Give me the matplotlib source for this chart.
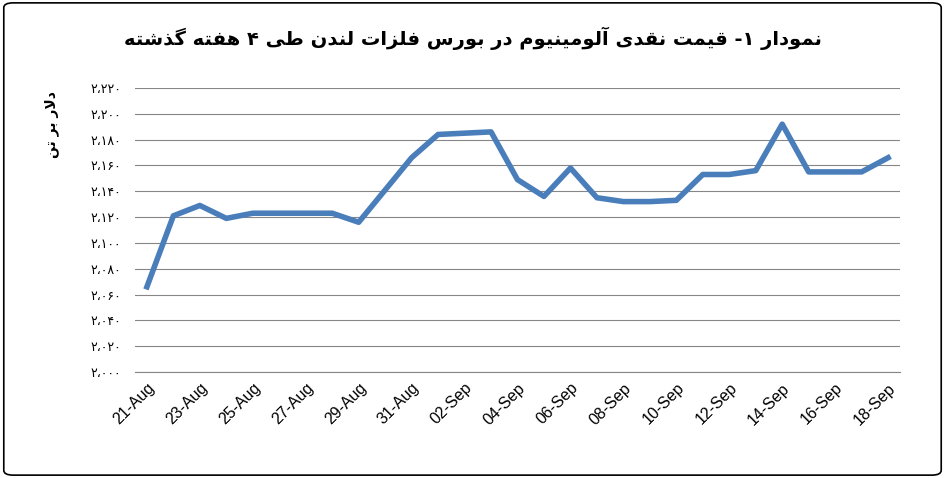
import numpy as np
import matplotlib.pyplot as plt
from matplotlib.patches import FancyBboxPatch

dates = ['21-Aug', '22-Aug', '23-Aug', '24-Aug', '25-Aug', '26-Aug', '27-Aug', '28-Aug',
         '29-Aug', '30-Aug', '31-Aug', '01-Sep', '02-Sep', '03-Sep', '04-Sep', '05-Sep',
         '06-Sep', '07-Sep', '08-Sep', '09-Sep', '10-Sep', '11-Sep', '12-Sep', '13-Sep',
         '14-Sep', '15-Sep', '16-Sep', '17-Sep', '18-Sep']
prices = [2066, 2121, 2129, 2119, 2123, 2123, 2123, 2123, 2116, 2141, 2166, 2184, 2185,
          2186, 2149, 2136, 2158, 2135, 2132, 2132, 2133, 2153, 2153, 2156, 2192, 2155,
          2155, 2155, 2166]
title_fa = 'نمودار ۱- قیمت نقدی آلومینیوم در بورس فلزات لندن طی ۴ هفته گذشته'
ylabel_fa = 'دلار بر تن'

# simple arabic shaping: (isolated, final, initial, medial); 2 forms = no left join
FORMS = {
    'ا': (0xFE8D, 0xFE8E), 'آ': (0xFE81, 0xFE82), 'د': (0xFEA9, 0xFEAA), 'ذ': (0xFEAB, 0xFEAC),
    'ر': (0xFEAD, 0xFEAE), 'ز': (0xFEAF, 0xFEB0), 'و': (0xFEED, 0xFEEE),
    'ب': (0xFE8F, 0xFE90, 0xFE91, 0xFE92), 'ت': (0xFE95, 0xFE96, 0xFE97, 0xFE98),
    'س': (0xFEB1, 0xFEB2, 0xFEB3, 0xFEB4), 'ش': (0xFEB5, 0xFEB6, 0xFEB7, 0xFEB8),
    'ط': (0xFEC1, 0xFEC2, 0xFEC3, 0xFEC4), 'ف': (0xFED1, 0xFED2, 0xFED3, 0xFED4),
    'ق': (0xFED5, 0xFED6, 0xFED7, 0xFED8), 'ل': (0xFEDD, 0xFEDE, 0xFEDF, 0xFEE0),
    'م': (0xFEE1, 0xFEE2, 0xFEE3, 0xFEE4), 'ن': (0xFEE5, 0xFEE6, 0xFEE7, 0xFEE8),
    'ه': (0xFEE9, 0xFEEA, 0xFEEB, 0xFEEC), 'ی': (0xFBFC, 0xFBFD, 0xFBFE, 0xFBFF),
    'گ': (0xFB92, 0xFB93, 0xFB94, 0xFB95),
}


def shape(s):
    # lam-alef ligature
    s = s.replace('لا', '\uE000')
    FORMS['\uE000'] = (0xFEFB, 0xFEFC)
    out = []
    for i, c in enumerate(s):
        if c not in FORMS:
            out.append(c)
            continue
        f = FORMS[c]
        prev = s[i - 1] if i > 0 else ''
        nxt = s[i + 1] if i + 1 < len(s) else ''
        jp = prev in FORMS and len(FORMS[prev]) == 4
        jn = len(f) == 4 and nxt in FORMS
        if jp and jn:
            out.append(chr(f[3]))
        elif jp:
            out.append(chr(f[1]))
        elif jn:
            out.append(chr(f[2]))
        else:
            out.append(chr(f[0]))
    return ''.join(out)[::-1]


def fa_num(v):
    d = '۰۱۲۳۴۵۶۷۸۹'
    s = f'{v:,}'.replace(',', '،')
    return ''.join(d[int(c)] if c.isdigit() else c for c in s)


fig = plt.figure(figsize=(9.45, 4.78), dpi=100)
ax = fig.add_axes([135 / 945, 1 - 372 / 478, 765 / 945, 284 / 478])
x = np.arange(len(dates))
ax.plot(x, prices, color='#4A7EBB', lw=4, solid_joinstyle='round')
ax.set_xlim(-0.45, len(dates) - 0.55)
ax.set_ylim(2000, 2220)
yt = np.arange(2000, 2221, 20)
ax.set_yticks(yt)
ax.set_yticklabels([fa_num(v) for v in yt], fontsize=9, family='DejaVu Sans')
ax.set_xticks(x[::2])
ax.set_xticklabels(dates[::2], rotation=45, ha='right', rotation_mode='anchor', fontsize=11.5,
                   family='Liberation Sans')
ax.grid(axis='y', color='#868686', lw=0.8)
ax.tick_params(axis='y', length=0, pad=10)
ax.tick_params(axis='x', length=0, pad=6)
for s in ['top', 'right', 'left']:
    ax.spines[s].set_visible(False)
ax.spines['bottom'].set_color('#868686')

fig.text(0.5, 0.905, shape(title_fa), ha='center', fontsize=14, fontweight='bold',
         family='DejaVu Sans')
fig.text(0.055, 0.74, shape(ylabel_fa), rotation=90, ha='center', va='center',
         fontsize=10, fontweight='bold', family='DejaVu Sans')

fig.patches.append(FancyBboxPatch((0.004, 0.006), 0.992, 0.988, boxstyle='round,pad=0,rounding_size=0.01',
                                  transform=fig.transFigure, fill=False, ec='black', lw=1.2))
fig.savefig('out.png', dpi=100)
